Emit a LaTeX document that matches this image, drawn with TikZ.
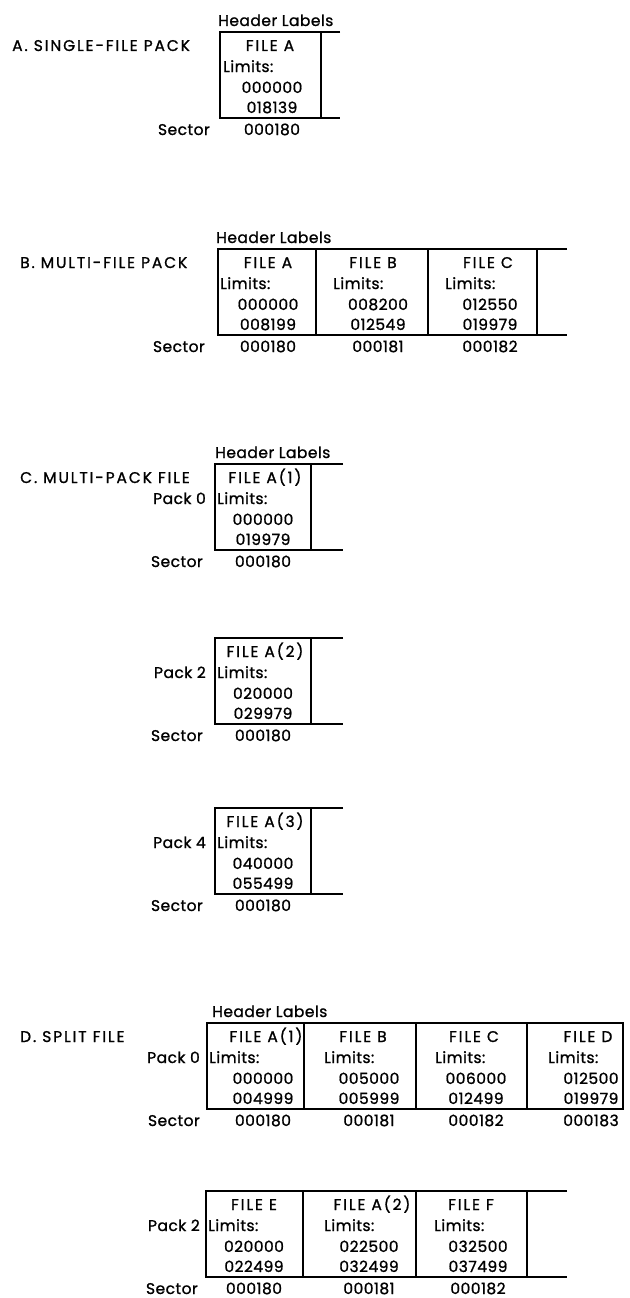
\documentclass[tikz,border=0pt]{standalone}
\usepackage{fontspec}
\setmainfont{Poppins}[LetterSpace=3,FakeBold=1.1]
\newfontfamily\capfont{Poppins}[LetterSpace=12,FakeBold=1.1]
\usetikzlibrary{positioning}
\begin{document}
\begin{tikzpicture}[x=1pt,y=-1pt]
\tikzstyle{txt}=[inner sep=0pt,font=\fontsize{15.5}{17}\selectfont]
\tikzstyle{mid}=[txt,anchor=base]
\tikzstyle{lft}=[txt,anchor=base west]
\tikzstyle{rgt}=[txt,anchor=base east]
\tikzstyle{capmid}=[mid,font=\fontsize{15.5}{17}\capfont]
\tikzstyle{caplft}=[lft,font=\fontsize{15.5}{17}\capfont]
\tikzstyle{rule}=[line width=1.2pt]
\useasboundingbox (0,0) rectangle (629,1298);

% A. single-file pack
\def\ty{32}
\node[caplft] (At) at (12,\ty+19) {A. SINGLE-FILE PACK};
\node[lft] (Ahl) at (218,\ty-6) {Header Labels};
\draw[rule] (340,\ty) -| (220,\ty+86) -- (340,\ty+86);
\draw[rule] (321,\ty) -- (321,\ty+86);
\node[rgt] (Asec) at (210,\ty+103) {Sector};
\foreach \i/\xf/\xl/\xc/\nm/\lo/\hi/\sc in {1/270/223/272/FILE A/000000/018139/000180}{
  \node[capmid] (Af\i) at (\xf,\ty+19) {\nm};
  \node[lft] (Al\i) at (\xl,\ty+40) {Limits:};
  \node[mid] (Alo\i) at (\xc,\ty+61) {\lo};
  \node[mid] (Ahi\i) at (\xc,\ty+81) {\hi};
  \node[mid] (As\i) at (\xc,\ty+103) {\sc};
}

% B. multi-file pack
\def\ty{249}
\node[caplft] (Bt) at (20,\ty+19) {B. MULTI-FILE PACK};
\node[lft] (Bhl) at (216,\ty-6) {Header Labels};
\draw[rule] (567,\ty) -| (218,\ty+86) -- (567,\ty+86);
\foreach \x in {316,428,537} \draw[rule] (\x,\ty) -- (\x,\ty+86);
\node[rgt] (Bsec) at (205,\ty+103) {Sector};
\foreach \i/\xf/\xl/\xc/\nm/\lo/\hi/\sc in {1/268/220/268/FILE A/000000/008199/000180,
    2/373/333/378/FILE B/008200/012549/000181,
    3/488/445/490/FILE C/012550/019979/000182}{
  \node[capmid] (Bf\i) at (\xf,\ty+19) {\nm};
  \node[lft] (Bl\i) at (\xl,\ty+40) {Limits:};
  \node[mid] (Blo\i) at (\xc,\ty+61) {\lo};
  \node[mid] (Bhi\i) at (\xc,\ty+81) {\hi};
  \node[mid] (Bs\i) at (\xc,\ty+103) {\sc};
}

% C. multi-pack file
\node[caplft] (Ct) at (20,464+19) {C. MULTI-PACK FILE};
\node[lft] (Chl) at (215,464-6) {Header Labels};
\foreach \p/\ty/\nm/\lo/\hi in {0/464/FILE A(1)/000000/019979,
    2/638/FILE A(2)/020000/029979,
    4/808/FILE A(3)/040000/055499}{
  \draw[rule] (343,\ty) -| (215,\ty+86) -- (343,\ty+86);
  \draw[rule] (311,\ty) -- (311,\ty+86);
  \node[rgt] (Cp\p) at (206,\ty+40) {Pack \p};
  \node[rgt] (Csec\p) at (203,\ty+103) {Sector};
  \node[capmid] (Cf\p) at (265,\ty+19) {\nm};
  \node[lft] (Cl\p) at (217,\ty+40) {Limits:};
  \node[mid] (Clo\p) at (263,\ty+61) {\lo};
  \node[mid] (Chi\p) at (263,\ty+81) {\hi};
  \node[mid] (Cs\p) at (263,\ty+103) {000180};
}

% D. split file, pack 0
\def\ty{1023}
\node[caplft] (Dt) at (20,\ty+19) {D. SPLIT FILE};
\node[lft] (Dhl) at (212,\ty-6) {Header Labels};
\draw[rule] (207,\ty) rectangle (623,\ty+86);
\foreach \x in {304,416,527} \draw[rule] (\x,\ty) -- (\x,\ty+86);
\node[rgt] (Dp0) at (200,\ty+40) {Pack 0};
\node[rgt] (Dsec0) at (200,\ty+103) {Sector};
\foreach \i/\xf/\xl/\xc/\nm/\lo/\hi/\sc in {1/266/209/263/FILE A(1)/000000/004999/000180,
    2/363/324/369/FILE B/005000/005999/000181,
    3/474/435/476/FILE C/006000/012499/000182,
    4/588/548/591/FILE D/012500/019979/000183}{
  \node[capmid] (Df\i) at (\xf,\ty+19) {\nm};
  \node[lft] (Dl\i) at (\xl,\ty+40) {Limits:};
  \node[mid] (Dlo\i) at (\xc,\ty+61) {\lo};
  \node[mid] (Dhi\i) at (\xc,\ty+81) {\hi};
  \node[mid] (Ds\i) at (\xc,\ty+103) {\sc};
}

% D. split file, pack 2
\def\ty{1191}
\draw[rule] (567,\ty) -| (206,\ty+86) -- (567,\ty+86);
\foreach \x in {303,416,527} \draw[rule] (\x,\ty) -- (\x,\ty+86);
\node[rgt] (Ep2) at (200,\ty+40) {Pack 2};
\node[rgt] (Esec2) at (198,\ty+103) {Sector};
\foreach \i/\xf/\xl/\xc/\nm/\lo/\hi/\sc in {1/254/208/254/FILE E/020000/022499/000180,
    2/372/324/369/FILE A(2)/022500/032499/000181,
    3/471/434/478/FILE F/032500/037499/000182}{
  \node[capmid] (Ef\i) at (\xf,\ty+19) {\nm};
  \node[lft] (El\i) at (\xl,\ty+40) {Limits:};
  \node[mid] (Elo\i) at (\xc,\ty+61) {\lo};
  \node[mid] (Ehi\i) at (\xc,\ty+81) {\hi};
  \node[mid] (Es\i) at (\xc,\ty+103) {\sc};
}
\end{tikzpicture}
\end{document}
